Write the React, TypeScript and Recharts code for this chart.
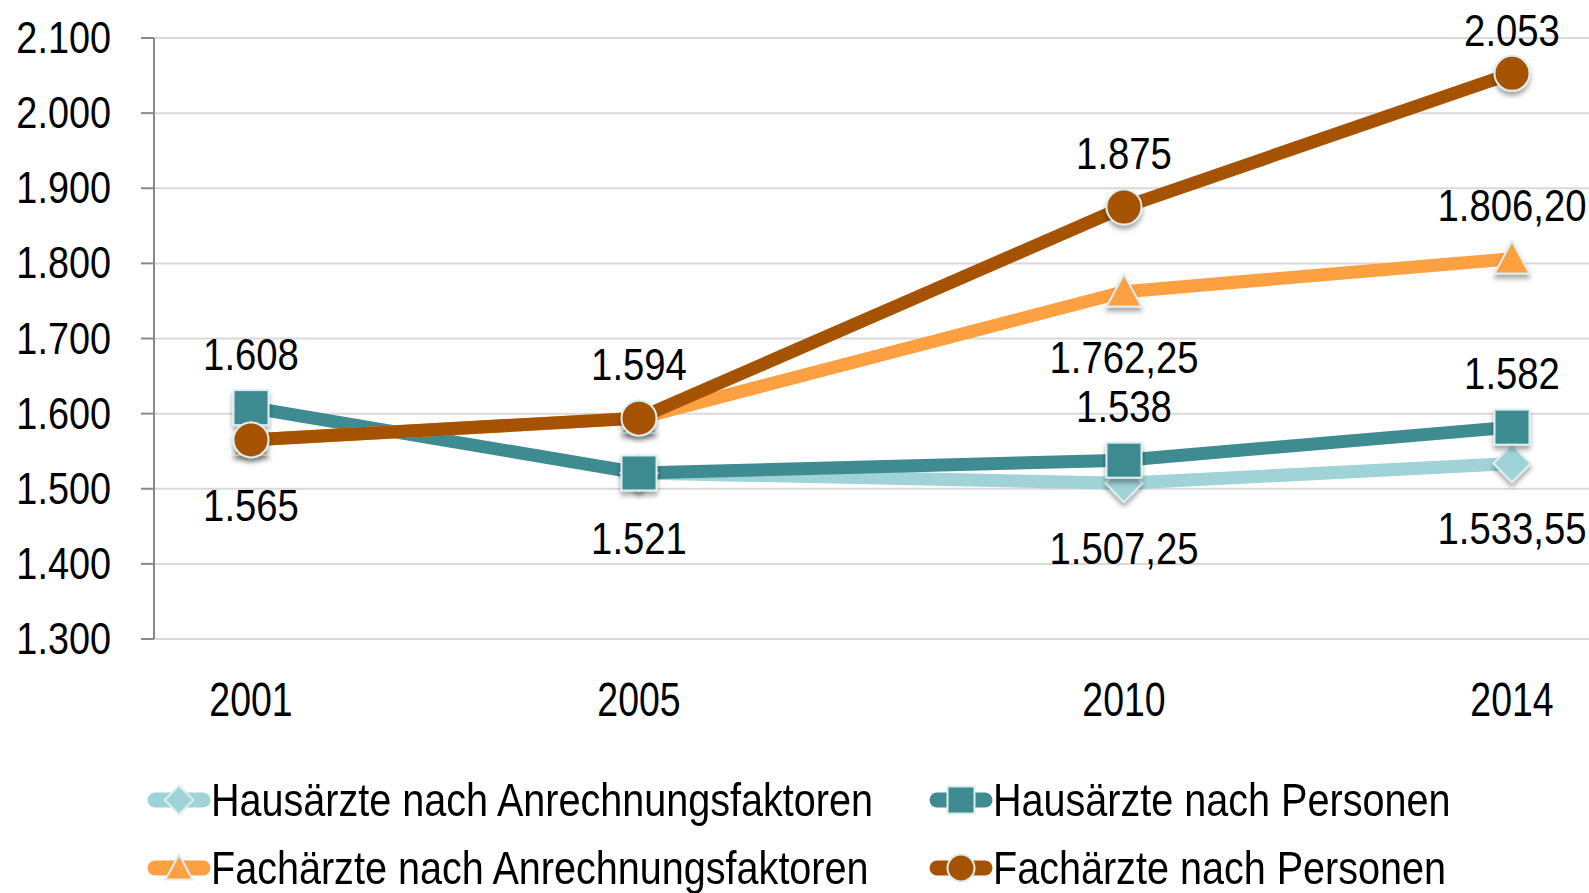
import React from "react";
import { CartesianGrid, LabelList, Legend, Line, LineChart, XAxis, YAxis } from "recharts";

const years = [2001, 2005, 2010, 2014];
const hausAnrechnung = [null, 1521, 1507.25, 1533.55];
const hausPersonen = [1608, 1521, 1538, 1582];
const fachAnrechnung = [1565, 1594, 1762.25, 1806.2];
const fachPersonen = [1565, 1594, 1875, 2053];
const yTicks = [1300, 1400, 1500, 1600, 1700, 1800, 1900, 2000, 2100];

// where each point's value label sits (null = no label shown)
const haLabelSide = [null, null, "below", "below"];
const hpLabelSide = ["above", "below", "above", "above"];
const faLabelSide = [null, null, "below", "above"];
const fpLabelSide = ["below", "above", "above", "above"];

// no narrow font installed, so Liberation Sans gets squeezed horizontally
const FONT = "'Liberation Sans', Arial, sans-serif";
const BORDER = "#dbeef0";

const series = [
  { key: "ha", name: "Hausärzte nach Anrechnungsfaktoren", color: "#9fd3d7", marker: "diamond", sides: haLabelSide, decimals: 2 },
  { key: "hp", name: "Hausärzte nach Personen", color: "#3e8b91", marker: "square", sides: hpLabelSide, decimals: 0 },
  { key: "fa", name: "Fachärzte nach Anrechnungsfaktoren", color: "#fda042", marker: "triangle", sides: faLabelSide, decimals: 2 },
  { key: "fp", name: "Fachärzte nach Personen", color: "#a55300", marker: "circle", sides: fpLabelSide, decimals: 0 },
];

const data = years.map((year, i) => ({
  year,
  ha: hausAnrechnung[i],
  hp: hausPersonen[i],
  fa: fachAnrechnung[i],
  fp: fachPersonen[i],
}));

function formatDe(v: number, decimals: number) {
  const fixed = v.toFixed(decimals);
  const [intPart, dec] = fixed.split(".");
  const withDots = intPart.replace(/\B(?=(\d{3})+(?!\d))/g, ".");
  return dec ? withDots + "," + dec : withDots;
}

function NarrowText({ x, y, anchor, size, squeeze, children }: any) {
  return (
    <text
      transform={`translate(${x},${y}) scale(${squeeze},1)`}
      x={0}
      y={0}
      textAnchor={anchor}
      dominantBaseline="central"
      fontFamily={FONT}
      fontSize={size}
      fill="#000"
    >
      {children}
    </text>
  );
}

function Marker({ kind, cx, cy, size, color, shadow }: any) {
  const h = size / 2;
  const common = { fill: color, stroke: BORDER, strokeWidth: 2, filter: shadow ? "url(#mshadow)" : undefined };
  if (kind === "square") return <rect x={cx - h} y={cy - h} width={size} height={size} {...common} />;
  if (kind === "circle") return <circle cx={cx} cy={cy} r={h} {...common} />;
  if (kind === "diamond") {
    const d = h * 1.06;
    return <polygon points={`${cx},${cy - d} ${cx + d},${cy} ${cx},${cy + d} ${cx - d},${cy}`} {...common} />;
  }
  return <polygon points={`${cx},${cy - h} ${cx + h},${cy + h * 0.85} ${cx - h},${cy + h * 0.85}`} {...common} />;
}

function makeDot(kind: string, color: string) {
  return (p: any) => {
    if (p.cx == null || p.cy == null || p.value == null) return <g key={p.key ?? p.index} />;
    return (
      <g key={p.key ?? p.index}>
        <Marker kind={kind} cx={p.cx} cy={p.cy} size={35} color={color} shadow />
      </g>
    );
  };
}

function makeLabel(sides: (string | null)[], decimals: number) {
  return (p: any) => {
    const side = sides[p.index];
    if (!side || p.value == null) return null;
    // keep labels inside the top edge, like the spreadsheet does
    const y = side === "above" ? Math.max(p.y - 53, 31) : p.y + 66;
    return (
      <NarrowText x={p.x} y={y} anchor="middle" size={44} squeeze={0.87}>
        {formatDe(p.value, decimals)}
      </NarrowText>
    );
  };
}

function LegendContent() {
  return (
    <div style={{ position: "relative", width: 1589, height: 140, fontFamily: FONT, fontSize: 46, color: "#000" }}>
      {series.map((s, i) => (
        <div
          key={s.key}
          style={{
            position: "absolute",
            left: i % 2 === 0 ? 147 : 929,
            top: Math.floor(i / 2) * 68,
            height: 68,
            display: "flex",
            alignItems: "center",
            whiteSpace: "nowrap",
          }}
        >
          <svg width={64} height={40} style={{ display: "block" }}>
            <line x1={8} y1={20} x2={56} y2={20} stroke={s.color} strokeWidth={15} strokeLinecap="round" />
            <Marker kind={s.marker} cx={32} cy={20} size={27} color={s.color} />
          </svg>
          <span
            style={{
              display: "inline-block",
              lineHeight: "68px",
              transform: "scaleX(0.86)",
              transformOrigin: "left center",
            }}
          >
            {s.name}
          </span>
        </div>
      ))}
    </div>
  );
}

export default function App() {
  return (
    <div style={{ position: "absolute", left: 0, top: 0, width: 1589, height: 893, overflow: "hidden", background: "#fff" }}>
      <svg width={0} height={0} style={{ position: "absolute" }}>
        <defs>
          <filter id="mshadow" x="-50%" y="-50%" width="200%" height="220%">
            <feDropShadow dx={0} dy={4} stdDeviation={2.5} floodColor="#000" floodOpacity={0.35} />
          </filter>
        </defs>
      </svg>
      <LineChart width={1609} height={893} data={data} margin={{ top: 38, right: 0, bottom: 54, left: 0 }}>
        <CartesianGrid vertical={false} stroke="#d9d9d9" strokeWidth={2} />
        <XAxis
          dataKey="year"
          type="number"
          domain={[2000, 2015]}
          ticks={years}
          axisLine={false}
          tickLine={false}
          tickSize={0}
          tickMargin={60}
          height={60}
          tick={(p: any) => (
            <NarrowText key={p.index} x={p.x} y={p.y} anchor="middle" size={48} squeeze={0.78}>
              {p.payload.value}
            </NarrowText>
          )}
        />
        <YAxis
          domain={[1300, 2100]}
          ticks={yTicks}
          width={154}
          axisLine={{ stroke: "#898989", strokeWidth: 2 }}
          tickLine={{ stroke: "#898989", strokeWidth: 2 }}
          tickSize={13}
          tickMargin={30}
          tick={(p: any) => (
            <NarrowText key={p.index} x={p.x} y={p.y} anchor="end" size={44} squeeze={0.86}>
              {formatDe(p.payload.value, 0)}
            </NarrowText>
          )}
        />
        <Legend
          verticalAlign="bottom"
          content={<LegendContent />}
          wrapperStyle={{ left: 0, top: 766, bottom: "auto", height: 140, width: 1589 }}
        />
        {series.map((s) => (
          <Line
            key={s.key}
            dataKey={s.key}
            name={s.name}
            stroke={s.color}
            strokeWidth={13}
            strokeLinejoin="round"
            dot={makeDot(s.marker, s.color)}
            activeDot={false}
            isAnimationActive={false}
          >
            <LabelList dataKey={s.key} content={makeLabel(s.sides, s.decimals)} />
          </Line>
        ))}
      </LineChart>
    </div>
  );
}
